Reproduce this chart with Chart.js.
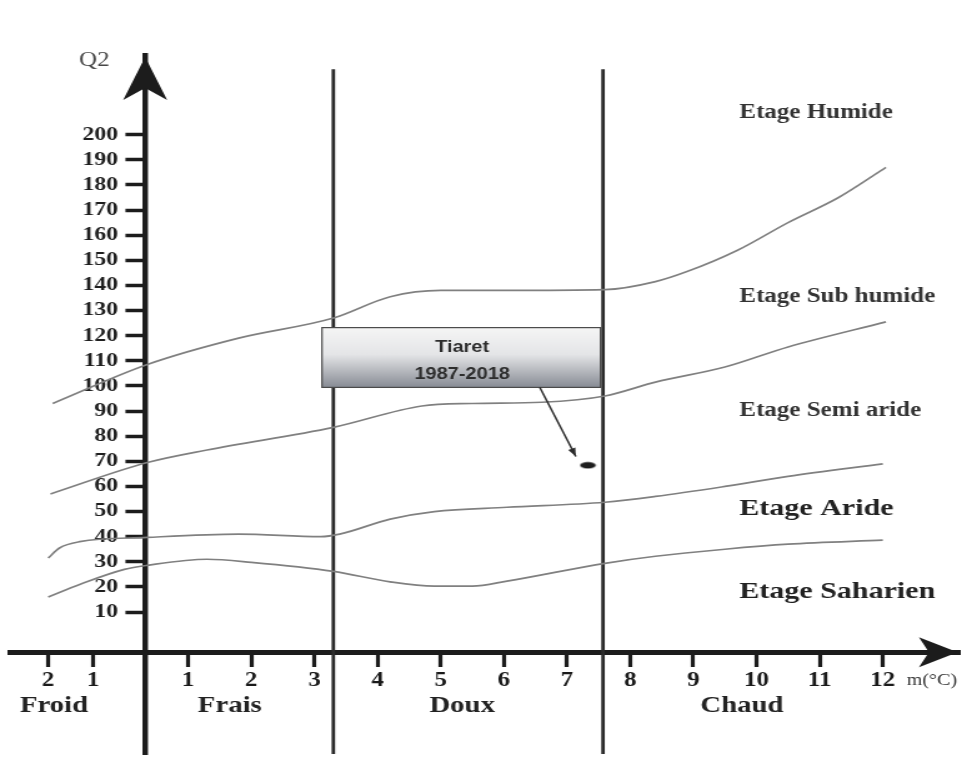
<!DOCTYPE html>
<html>
<head>
<meta charset="utf-8">
<title>Climagramme d'Emberger - Tiaret</title>
<script src="https://cdn.jsdelivr.net/npm/chart.js@4/dist/chart.umd.min.js"></script>
<style>
  html, body { margin: 0; padding: 0; background: #ffffff; }
</style>
</head>
<body>
<canvas id="climagram" width="774" height="760" style="display:block;width:967px;height:760px"></canvas>
<script>
// ---- Axis ticks ----
const mTicks = [-2, -1, 1, 2, 3, 4, 5, 6, 7, 8, 9, 10, 11, 12];
const q2Ticks = [10, 20, 30, 40, 50, 60, 70, 80, 90, 100, 110, 120, 130, 140, 150, 160, 170, 180, 190, 200];

// ---- Bioclimatic boundaries (m in °C, Q2) ----
const humideM  = [-1.9, 0.05, 1.8, 3.3, 4.2, 5.0, 6.0, 7.6, 8.4, 8.9, 9.7, 10.5, 11.3, 12.05];
const humideQ2 = [93, 108.5, 119, 127, 135.5, 138, 138, 138.3, 141.5, 145.5, 154, 165, 175, 187];

const subHumideM  = [-1.95, 0.05, 1.3, 3.3, 4.7, 5.5, 6.6, 7.6, 8.4, 9.5, 10.5, 12.05];
const subHumideQ2 = [57, 69.5, 74.5, 83.5, 92, 93, 93.5, 96, 101.5, 107.5, 115.5, 125.5];

const semiAridM  = [-2.0, -1.75, -1.3, 0.05, 1.8, 3.1, 3.4, 4.2, 4.9, 6.05, 7.6, 8.4, 9.5, 10.5, 12.0];
const semiAridQ2 = [31.5, 35.5, 38, 39.7, 41, 40, 41, 47, 50, 51.7, 53.7, 56, 60, 64, 69];

const arideM  = [-2.0, -1.3, -0.4, 0.05, 1.3, 2.0, 3.3, 4.2, 4.9, 5.5, 6.05, 7.6, 8.4, 9.5, 10.5, 12.0];
const arideQ2 = [16, 21, 27, 28.6, 31, 29.8, 26.2, 22, 20.3, 20.3, 22.3, 29.4, 32.2, 35, 37, 38.6];

// Thermal limits between Frais / Doux / Chaud
const thermalLimitsM = [3.3, 7.57];
const thermalLimitTopQ2 = 226;

// Station
const stationName = 'Tiaret';
const stationPeriod = '1987-2018';
const stationM = 7.33;
const stationQ2 = 68.4;

// Labels
const thermalZones = ['Froid', 'Frais', 'Doux', 'Chaud'];
const bioclimateStages = ['Etage Humide', 'Etage Sub humide', 'Etage Semi aride', 'Etage Aride', 'Etage Saharien'];

const toPoints = (xs, ys) => xs.map((x, i) => ({ x: x, y: ys[i] }));

// ---- m axis: the cold side (m < 1) is drawn with tighter spacing ----
const M_KNOTS = [-2, -1, 0, 1];
const U_KNOTS = [-1.215, -0.503, 0.320, 1];
const COLD_SLOPE = 0.712;
function warpM(v) {
  if (v >= 1) return v;
  if (v <= -2) return U_KNOTS[0] + (v + 2) * COLD_SLOPE;
  for (let i = 0; i < 3; i++) {
    if (v <= M_KNOTS[i + 1]) {
      const t = (v - M_KNOTS[i]) / (M_KNOTS[i + 1] - M_KNOTS[i]);
      return U_KNOTS[i] + t * (U_KNOTS[i + 1] - U_KNOTS[i]);
    }
  }
  return v;
}
function unwarpM(u) {
  if (u >= 1) return u;
  if (u <= U_KNOTS[0]) return -2 + (u - U_KNOTS[0]) / COLD_SLOPE;
  for (let i = 0; i < 3; i++) {
    if (u <= U_KNOTS[i + 1]) {
      const t = (u - U_KNOTS[i]) / (U_KNOTS[i + 1] - U_KNOTS[i]);
      return M_KNOTS[i] + t * (M_KNOTS[i + 1] - M_KNOTS[i]);
    }
  }
  return u;
}

class ClimagramScale extends Chart.LinearScale {
  getPixelForValue(value) {
    if (value === null || value === undefined) return NaN;
    return super.getPixelForValue(warpM(value));
  }
  getValueForPixel(pixel) {
    return unwarpM(super.getValueForPixel(pixel));
  }
}
ClimagramScale.id = 'climagram';
ClimagramScale.defaults = Chart.LinearScale.defaults;
Chart.register(ClimagramScale);

// ---- Station marker (flat ellipse) ----
const stationMarker = document.createElement('canvas');
stationMarker.width = 14; stationMarker.height = 8;
(function () {
  const c = stationMarker.getContext('2d');
  c.fillStyle = '#1e1e1e';
  c.beginPath();
  c.ellipse(7, 4, 6.3, 3.2, 0, 0, Math.PI * 2);
  c.fill();
})();

const X_AXIS_Q2 = -6;
const Q2_MIN = -46.5, Q2_MAX = 231.7;
const INK = '#1c1c1c';
const SERIF = '"Liberation Serif", "Times New Roman", serif';

// Axes sit inside the plot: they take no room in the layout
const noRoomX = s => { s.height = 0; s.paddingLeft = 0; s.paddingRight = 0; };
const noRoomY = s => { s.width = 0; s.paddingTop = 0; s.paddingBottom = 0; };

const decor = {
  id: 'climagramDecor',
  afterDatasetsDraw(chart) {
    const { ctx } = chart;
    const xs = chart.scales.x, ys = chart.scales.y;
    // Station box
    const l = xs.getPixelForValue(3.12), r = xs.getPixelForValue(7.53);
    const t = ys.getPixelForValue(123.2), b = ys.getPixelForValue(99.4);
    ctx.save();
    const g = ctx.createLinearGradient(0, t, 0, b);
    g.addColorStop(0, '#f5f5f5');
    g.addColorStop(0.45, '#e4e5e7');
    g.addColorStop(1, '#878b94');
    ctx.fillStyle = g;
    ctx.fillRect(l, t, r - l, b - t);
    ctx.strokeStyle = '#4a4a4a';
    ctx.lineWidth = 1.2;
    ctx.strokeRect(l, t, r - l, b - t);
    ctx.fillStyle = '#2d2d2d';
    ctx.font = 'bold 16px "Liberation Sans", Arial, sans-serif';
    ctx.textAlign = 'center';
    ctx.textBaseline = 'middle';
    const cx = xs.getPixelForValue(5.34);
    ctx.fillText(stationName, cx, ys.getPixelForValue(115.4));
    ctx.fillText(stationPeriod, cx, ys.getPixelForValue(104.7));
    // Pointer to the station
    const ax0 = xs.getPixelForValue(6.57), ay0 = b;
    const ax1 = xs.getPixelForValue(7.14), ay1 = ys.getPixelForValue(71.9);
    ctx.strokeStyle = '#2a2a2a';
    ctx.lineWidth = 1.5;
    ctx.beginPath(); ctx.moveTo(ax0, ay0); ctx.lineTo(ax1, ay1); ctx.stroke();
    const ang = Math.atan2(ay1 - ay0, ax1 - ax0);
    ctx.fillStyle = '#2a2a2a';
    ctx.beginPath();
    ctx.moveTo(ax1, ay1);
    ctx.lineTo(ax1 - 9 * Math.cos(ang - 0.35), ay1 - 9 * Math.sin(ang - 0.35));
    ctx.lineTo(ax1 - 9 * Math.cos(ang + 0.35), ay1 - 9 * Math.sin(ang + 0.35));
    ctx.closePath(); ctx.fill();
    ctx.restore();
  },
  afterDraw(chart) {
    const { ctx, chartArea } = chart;
    const xs = chart.scales.x, ys = chart.scales.y;
    ctx.save();
    ctx.fillStyle = INK;
    // Arrow heads on both axes
    const x0 = xs.getPixelForValue(0);
    ctx.beginPath();
    ctx.moveTo(x0, 57);
    ctx.lineTo(x0 + 17.6, 100);
    ctx.lineTo(x0, 88);
    ctx.lineTo(x0 - 17.6, 100);
    ctx.closePath(); ctx.fill();
    const y0 = ys.getPixelForValue(X_AXIS_Q2);
    const tip = chartArea.right - 1.5;
    ctx.beginPath();
    ctx.moveTo(tip, y0);
    ctx.lineTo(tip - 31, y0 - 15);
    ctx.lineTo(tip - 23, y0);
    ctx.lineTo(tip - 31, y0 + 15);
    ctx.closePath(); ctx.fill();

    // Axis titles
    ctx.textBaseline = 'middle';
    ctx.textAlign = 'center';
    ctx.fillStyle = '#474747';
    ctx.font = '20px ' + SERIF;
    ctx.fillText('Q2', xs.getPixelForValue(-0.98), ys.getPixelForValue(229.3));
    ctx.textAlign = 'left';
    ctx.fillStyle = '#333';
    ctx.font = '16px ' + SERIF;
    ctx.fillText('m(°C)', xs.getPixelForValue(12.38), ys.getPixelForValue(-17.5));

    // Thermal zones under the m axis
    ctx.fillStyle = '#222';
    ctx.textAlign = 'center';
    ctx.font = 'bold 23px ' + SERIF;
    const zoneM = [-1.87, 1.66, 5.34, 9.77];
    thermalZones.forEach((z, i) => ctx.fillText(z, xs.getPixelForValue(zoneM[i]), ys.getPixelForValue(-27.3)));

    // Bioclimatic stages
    ctx.textAlign = 'left';
    const stageQ2 = [208.7, 135.5, 90.2, 50.9, 17.9];
    bioclimateStages.forEach((s, i) => {
      const big = i >= 3;
      ctx.font = (big ? 'bold 24px ' : 'bold 20px ') + SERIF;
      ctx.fillStyle = big ? '#222' : '#333';
      ctx.fillText(s, xs.getPixelForValue(9.73), ys.getPixelForValue(stageQ2[i]));
    });
    ctx.restore();
  }
};

const boundaryStyle = {
  type: 'line',
  borderColor: '#808080',
  borderWidth: 1.7,
  pointRadius: 0,
  fill: false,
  cubicInterpolationMode: 'monotone'
};

const datasets = [
  Object.assign({ label: 'Humide / Sub humide', data: toPoints(humideM, humideQ2) }, boundaryStyle),
  Object.assign({ label: 'Sub humide / Semi aride', data: toPoints(subHumideM, subHumideQ2) }, boundaryStyle),
  Object.assign({ label: 'Semi aride / Aride', data: toPoints(semiAridM, semiAridQ2) }, boundaryStyle),
  Object.assign({ label: 'Aride / Saharien', data: toPoints(arideM, arideQ2) }, boundaryStyle)
];
thermalLimitsM.forEach((m, i) => {
  datasets.push({
    type: 'line',
    label: 'Limite thermique ' + (i + 1),
    data: [{ x: m, y: thermalLimitTopQ2 }, { x: m, y: -60 }],
    borderColor: '#2b2b2b',
    borderWidth: 2.8,
    pointRadius: 0,
    fill: false
  });
});
datasets.push({
  type: 'scatter',
  label: stationName + ' ' + stationPeriod,
  data: [{ x: stationM, y: stationQ2 }],
  pointStyle: stationMarker,
  pointRadius: 5
});

new Chart(document.getElementById('climagram'), {
  type: 'line',
  data: { datasets: datasets },
  options: {
    responsive: false,
    devicePixelRatio: 1,
    animation: false,
    layout: { padding: { left: 8, right: 6, top: 55, bottom: 5 } },
    plugins: { legend: { display: false }, tooltip: { enabled: false } },
    scales: {
      x: {
        type: 'climagram',
        position: { y: X_AXIS_Q2 },
        min: warpM(-2.85),
        max: 13.215,
        z: 1,
        afterFit: noRoomX,
        afterBuildTicks(s) { s.ticks = mTicks.map(v => ({ value: v })); },
        grid: { drawOnChartArea: false, drawTicks: true, tickLength: 12, tickWidth: 3.2, tickColor: INK },
        border: { display: true, color: INK, width: 5 },
        ticks: {
          autoSkip: false,
          maxRotation: 0,
          padding: 5,
          color: '#1a1a1a',
          font: { family: SERIF, size: 20, weight: 'bold' },
          callback: v => String(Math.abs(v))
        }
      },
      // Q2 axis: line and tick marks
      y: {
        type: 'linear',
        position: { x: 0 },
        min: Q2_MIN,
        max: Q2_MAX,
        z: 1,
        afterFit: noRoomY,
        afterBuildTicks(s) { s.ticks = q2Ticks.map(v => ({ value: v })); },
        grid: { drawOnChartArea: false, drawTicks: true, tickLength: 13.6, tickWidth: 3.5, tickColor: INK },
        border: { display: true, color: INK, width: 4.4 },
        ticks: { display: false }
      },
      // Q2 axis: tick labels, set back from the tick marks
      yLabels: {
        type: 'linear',
        axis: 'y',
        position: { x: -0.52 },
        min: Q2_MIN,
        max: Q2_MAX,
        z: 1,
        afterFit: noRoomY,
        afterBuildTicks(s) { s.ticks = q2Ticks.map(v => ({ value: v })); },
        grid: { display: false, drawTicks: false },
        border: { display: false },
        ticks: {
          autoSkip: false,
          padding: 0,
          color: '#1e1e1e',
          font: { family: SERIF, size: 19, weight: 'bold' },
          callback: v => String(v)
        }
      }
    }
  },
  plugins: [decor]
});
</script>
</body>
</html>
